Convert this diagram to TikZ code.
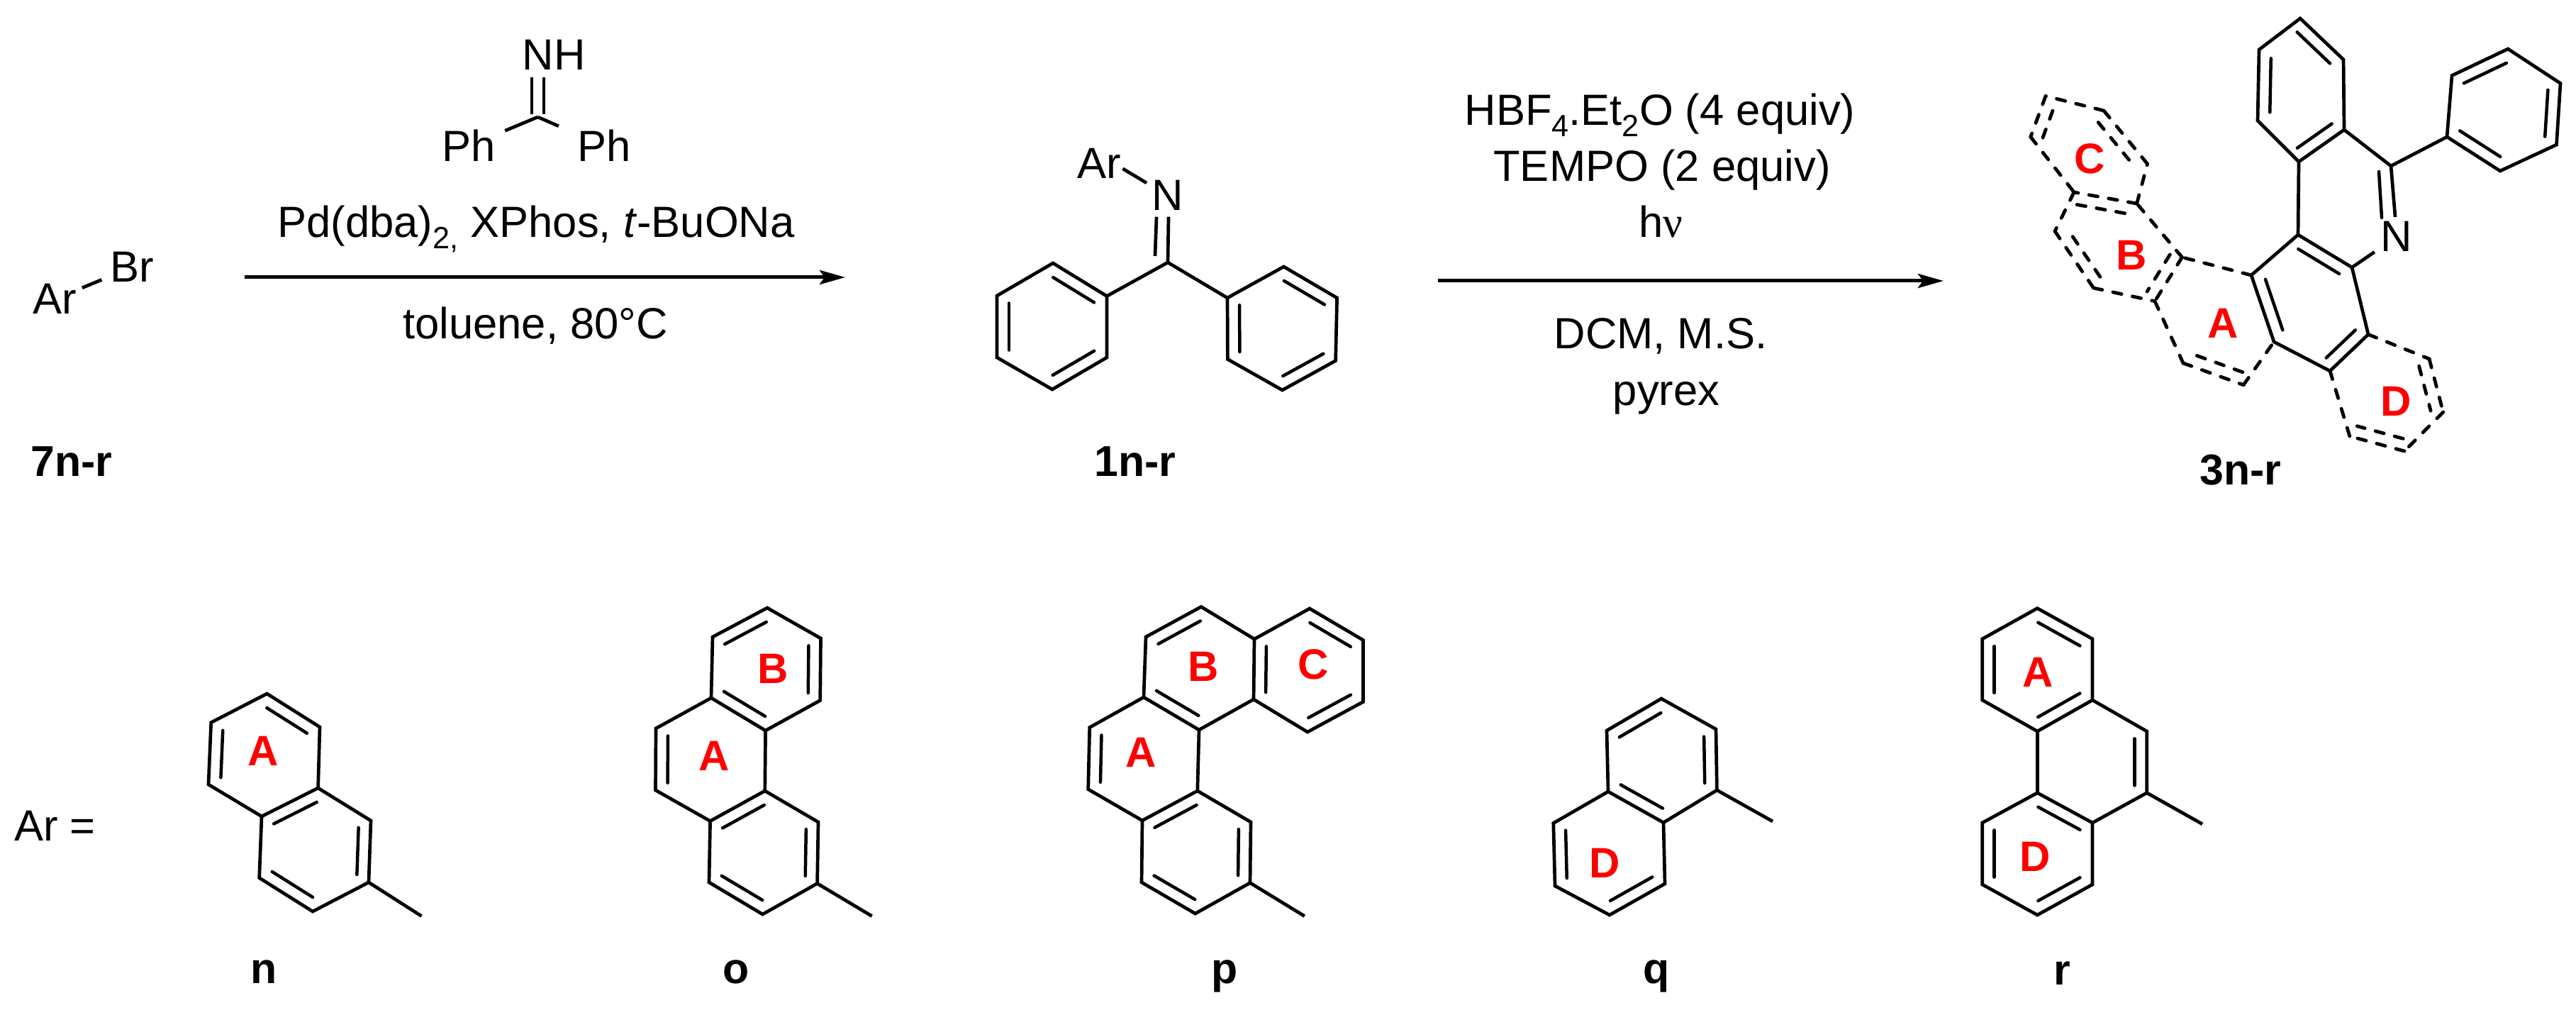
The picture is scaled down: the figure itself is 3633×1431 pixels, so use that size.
\documentclass[tikz,border=0pt]{standalone}
\usepackage{fontspec}
\setmainfont{Liberation Sans}
\newfontfamily\nufont{Liberation Serif}
\usetikzlibrary{calc,arrows.meta}
\newcommand{\atoms}[1]{\foreach \n/\cx/\cy in {#1} {\coordinate (\n) at (\cx,\cy);}}
% inner line of a double bond; A->B runs clockwise round the ring on the page
\newcommand{\dbin}[2]{\draw[innerb] ($(#1)!0.12!(#2)!0.17cm!-90:(#2)$) -- ($(#2)!0.12!(#1)!0.17cm!90:(#1)$);}
\newcommand{\dbd}[2]{\draw[dashb] ($(#1)!0.08!(#2)!0.165cm!-90:(#2)$) -- ($(#2)!0.08!(#1)!0.165cm!90:(#1)$);}
\newcommand{\sbs}[1]{\raisebox{-0.25em}{\fontsize{12.3}{12}\selectfont #1}}
\tikzset{
  bond/.style={line width=0.047cm,line join=miter,miter limit=4,draw=black},
  innerb/.style={line width=0.045cm,line cap=round,draw=black},
  dashb/.style={line width=0.048cm,line cap=round,draw=black,dash pattern=on 0.125cm off 0.155cm},
  rxn/.style={line width=0.05cm,draw=black,-{Stealth[length=0.36cm,width=0.2cm,inset=0.07cm]}},
  txt/.style={inner sep=0pt,anchor=base,font=\fontsize{17.5}{20}\selectfont,text=black},
  cmpd/.style={txt,font=\fontsize{17.3}{20}\selectfont\bfseries},
  ring/.style={inner sep=0pt,anchor=center,text=red,font=\fontsize{17.07}{20}\selectfont\bfseries}
}
\begin{document}
\begin{tikzpicture}[x=0.01cm,y=-0.01cm]
\useasboundingbox (0,0) rectangle (3633,1431);
% ---------- reaction text ----------
\node[txt] (NH) at (781,99) {NH};
\node[txt] (PhL) at (661,228) {Ph};
\node[txt] (PhR) at (852,228) {Ph};
\coordinate (imC) at (758.5,165);
\draw[bond] ($(NH.south)+(-31,9)$) -- ($(imC)+(-8.5,-4)$);
\draw[bond] ($(NH.south)+(-14,9)$) -- ($(imC)+(8.5,-4)$);
\draw[bond,shorten >=4pt] (imC) -- (PhL);
\draw[bond,shorten >=8pt] (imC) -- (PhR);
\node[txt] (cat) at (756,335) {Pd(dba)\sbs{2,} XPhos, \textit{t}-BuONa};
\node[txt] (tol) at (755,477.5) {toluene, 80°C};
\coordinate (a1s) at (344.5,391);
\coordinate (a1e) at (1192,391);
\draw[rxn] (a1s) -- (a1e);
\node[txt] (ArB) at (77,443) {Ar};
\node[txt] (BrB) at (186,398) {Br};
\draw[bond,shorten <=0.08cm,shorten >=0.12cm] (ArB) -- (BrB);
\node[cmpd] (c7) at (101,672) {7n-r};
% ---------- 1n-r ----------
\node[txt] (Ar1) at (1550,252) {Ar};
\node[txt] (N1) at (1647,297) {N};
\atoms{iC/1647/370,la/1485/371,lb/1561/417.5,lc/1561/504,ld/1484/549,le/1406/504,lf/1406/417,
ra/1810.5/376,rb/1885.6/420,rc/1883.6/508.6,rd/1808.5/550,re/1731.4/506.5,rf/1731/420}
\draw[bond] ($(Ar1.east)+(2,7)$) -- ($(N1.north west)+(-7,4)$);
\draw[bond] ($(N1.south)+(1,8)$) -- (iC);
\draw[bond] ($(N1.south)+(-16,8)$) -- ($(iC)+(-18,-9)$);
\draw[bond] (iC) -- (lb);
\draw[bond] (iC) -- (rf);
\draw[bond] (la)--(lb)--(lc)--(ld)--(le)--(lf)--cycle;
\draw[bond] (ra)--(rb)--(rc)--(rd)--(re)--(rf)--cycle;
\dbin{la}{lb}\dbin{lc}{ld}\dbin{le}{lf}
\dbin{ra}{rb}\dbin{rc}{rd}\dbin{re}{rf}
\node[cmpd] (c1) at (1601,672) {1n-r};
% ---------- second arrow ----------
\node[txt] (hbf) at (2341,177) {HBF\sbs{4}.Et\sbs{2}O (4 equiv)};
\node[txt] (tem) at (2344,256) {TEMPO (2 equiv)};
\node[txt] (hnu) at (2342,335) {h{\nufont ν}};
\node[txt] (dcm) at (2342,492) {DCM, M.S.};
\node[txt] (pyr) at (2350,572) {pyrex};
\coordinate (a2s) at (2028,396);
\coordinate (a2e) at (2741,396);
\draw[rxn] (a2s) -- (a2e);
% ---------- 3n-r ----------
\atoms{t1/3244/26,t2/3305/84,t3/3306/183,t4/3242/228,t5/3184/170,t6/3186/70,
CN/3372/234,w/3241/331,a/3317/377,b/3340/471.5,c/3286/523,d/3207/482,e/3175/388,
pa/3451/193,pb/3458/106.5,pc/3537/69,pd/3611/117.5,pe/3605.5/204,pf/3526/241,
f/3077.4/362.7,g/3039/424.7,h/3079/512,i/3164/542.7,
j/3013.6/287,k/2925/271,l/2898/326,m/2952.5/406,
cn/3028.5/231,co/2967/156,cp/2885/135.4,cq/2863.8/193,
dr/3426/506,ds/3445.6/581,dt/3391/636,du/3313.8/615}
\node[txt] (N3) at (3380,355) {N};
\draw[bond] (t1)--(t2)--(t3)--(t4)--(t5)--(t6)--cycle;
\draw[bond] (t4)--(w);
\draw[bond] (t3)--(CN);
\draw[bond] (CN)--(pa);
\draw[bond] (w)--(a)--(b)--(c)--(d)--(e)--cycle;
\draw[bond] (pa)--(pb)--(pc)--(pd)--(pe)--(pf)--cycle;
\draw[bond] (CN) -- ($(N3.north)+(-2,-6)$);
\draw[innerb] ($(CN)+(-17,8)$) -- ($(N3.north)+(-21,-5)$);
\draw[bond,shorten >=0.1cm] (a) -- (N3);
\dbin{t1}{t2}\dbin{t3}{t4}\dbin{t5}{t6}
\dbin{w}{a}\dbin{b}{c}\dbin{d}{e}
\dbin{pb}{pc}\dbin{pd}{pe}\dbin{pf}{pa}
\foreach \p/\q in {e/f,f/g,g/h,h/i,i/d,f/j,j/k,k/l,l/m,m/g,j/cn,cn/co,co/cp,cp/cq,cq/k,b/dr,dr/ds,ds/dt,dt/du,du/c}
  {\draw[dashb] (\p)--(\q);}
\dbd{i}{h}\dbd{f}{g}\dbd{k}{j}\dbd{m}{l}\dbd{co}{cn}\dbd{cq}{cp}\dbd{dr}{ds}\dbd{dt}{du}
\node[ring] (A3) at (3135,456) {A};
\node[ring] (B3) at (3006,360) {B};
\node[ring] (C3) at (2947,224) {C};
\node[ring] (D3) at (3379,566) {D};
\node[cmpd] (c3) at (3160,684) {3n-r};
% ---------- Ar = ----------
\node[txt] (arq) at (77.5,1185) {Ar =};
% ---------- n ----------
\atoms{n1/376.5/978,n2/451/1025,n3/448.6/1111,n4/369/1151,n5/294/1106,n6/297.7/1018.6,
n7/523/1157,n8/520/1244,n9/441/1285,n10/365.7/1237.7,nM/594.5/1291.6}
\draw[bond] (n1)--(n2)--(n3)--(n4)--(n5)--(n6)--cycle;
\draw[bond] (n3)--(n7)--(n8)--(n9)--(n10)--(n4);
\draw[bond] (n8)--(nM);
\dbin{n1}{n2}\dbin{n5}{n6}\dbin{n4}{n3}\dbin{n7}{n8}\dbin{n9}{n10}
\node[ring] (An) at (371.5,1059) {A};
\node[cmpd] (ln) at (372,1386.6) {n};
% ---------- o ----------
\atoms{o1/1082/857,o2/1157.5/900,o3/1156.7/987.5,o4/1079.6/1030,o5/1003/984,o6/1005/898,
o7/925/1027,o8/924.5/1114,o9/1001.6/1157.6,o10/1078.8/1115,o11/1154/1159,o12/1152.6/1245.6,
o13/1075.5/1289,o14/1000/1244,oM/1229.7/1291.6}
\draw[bond] (o1)--(o2)--(o3)--(o4)--(o5)--(o6)--cycle;
\draw[bond] (o5)--(o7)--(o8)--(o9)--(o10)--(o4);
\draw[bond] (o10)--(o11)--(o12)--(o13)--(o14)--(o9);
\draw[bond] (o12)--(oM);
\dbin{o6}{o1}\dbin{o2}{o3}\dbin{o4}{o5}\dbin{o8}{o7}\dbin{o9}{o10}\dbin{o11}{o12}\dbin{o13}{o14}
\node[ring] (Ao) at (1007.5,1066) {A};
\node[ring] (Bo) at (1090.4,943) {B};
\node[cmpd] (lo) at (1038,1386.6) {o};
% ---------- p ----------
\atoms{p1/1694/855.5,p2/1769/901,p3/1768/986,p4/1691/1029,p5/1613/983,p6/1616/898,
p7/1847/858,p8/1922.4/902.4,p9/1922.4/989.5,p10/1844/1032,
p11/1536.7/1025.6,p12/1534.7/1112.8,p13/1611/1156.8,p14/1688.8/1115,
p15/1764/1159,p16/1763/1244.7,p17/1685.7/1288,p18/1610/1244,pM/1839.8/1291.6}
\draw[bond] (p1)--(p2)--(p3)--(p4)--(p5)--(p6)--cycle;
\draw[bond] (p2)--(p7)--(p8)--(p9)--(p10)--(p3);
\draw[bond] (p5)--(p11)--(p12)--(p13)--(p14)--(p4);
\draw[bond] (p14)--(p15)--(p16)--(p17)--(p18)--(p13);
\draw[bond] (p16)--(pM);
\dbin{p6}{p1}\dbin{p4}{p5}\dbin{p3}{p2}\dbin{p7}{p8}\dbin{p9}{p10}\dbin{p12}{p11}\dbin{p13}{p14}\dbin{p15}{p16}\dbin{p17}{p18}
\node[ring] (Ap) at (1609,1061) {A};
\node[ring] (Bp) at (1697,940) {B};
\node[ring] (Cp) at (1852,937) {C};
\node[cmpd] (lp) at (1727,1386.6) {p};
% ---------- q ----------
\atoms{q1/2343/985,q2/2420/1028,q3/2421.4/1114,q4/2346/1159.7,q5/2268/1116,q6/2266/1030,
q7/2190.8/1160.5,q8/2193/1249,q9/2270/1290,q10/2348/1246,qM/2500/1158}
\draw[bond] (q1)--(q2)--(q3)--(q4)--(q5)--(q6)--cycle;
\draw[bond] (q5)--(q7)--(q8)--(q9)--(q10)--(q4);
\draw[bond] (q3)--(qM);
\dbin{q6}{q1}\dbin{q2}{q3}\dbin{q4}{q5}\dbin{q10}{q9}\dbin{q8}{q7}
\node[ring] (Dq) at (2263,1217) {D};
\node[cmpd] (lq) at (2336,1386.6) {q};
% ---------- r ----------
\atoms{r1/2873.3/857.6,r2/2951/900.8,r3/2951/987,r4/2873.3/1031,r5/2795.7/987,r6/2795.7/900.8,
s1/3027.7/1031,s2/3027.7/1117.8,r8/2951/1160,r7/2873.3/1117.8,r12/2795.7/1160,r11/2795.7/1247,
r10/2873.3/1290,r9/2951/1247,rM/3106/1161.8}
\draw[bond] (r1)--(r2)--(r3)--(r4)--(r5)--(r6)--cycle;
\draw[bond] (r3)--(s1)--(s2)--(r8)--(r9)--(r10)--(r11)--(r12)--(r7)--(r8);
\draw[bond] (r4)--(r7);
\draw[bond] (s2)--(rM);
\dbin{r1}{r2}\dbin{r3}{r4}\dbin{r5}{r6}\dbin{s1}{s2}\dbin{r7}{r8}\dbin{r9}{r10}\dbin{r11}{r12}
\node[ring] (Ar) at (2874,947.5) {A};
\node[ring] (Dr) at (2870,1207.7) {D};
\node[cmpd] (lr) at (2908,1388) {r};
\end{tikzpicture}
\end{document}
